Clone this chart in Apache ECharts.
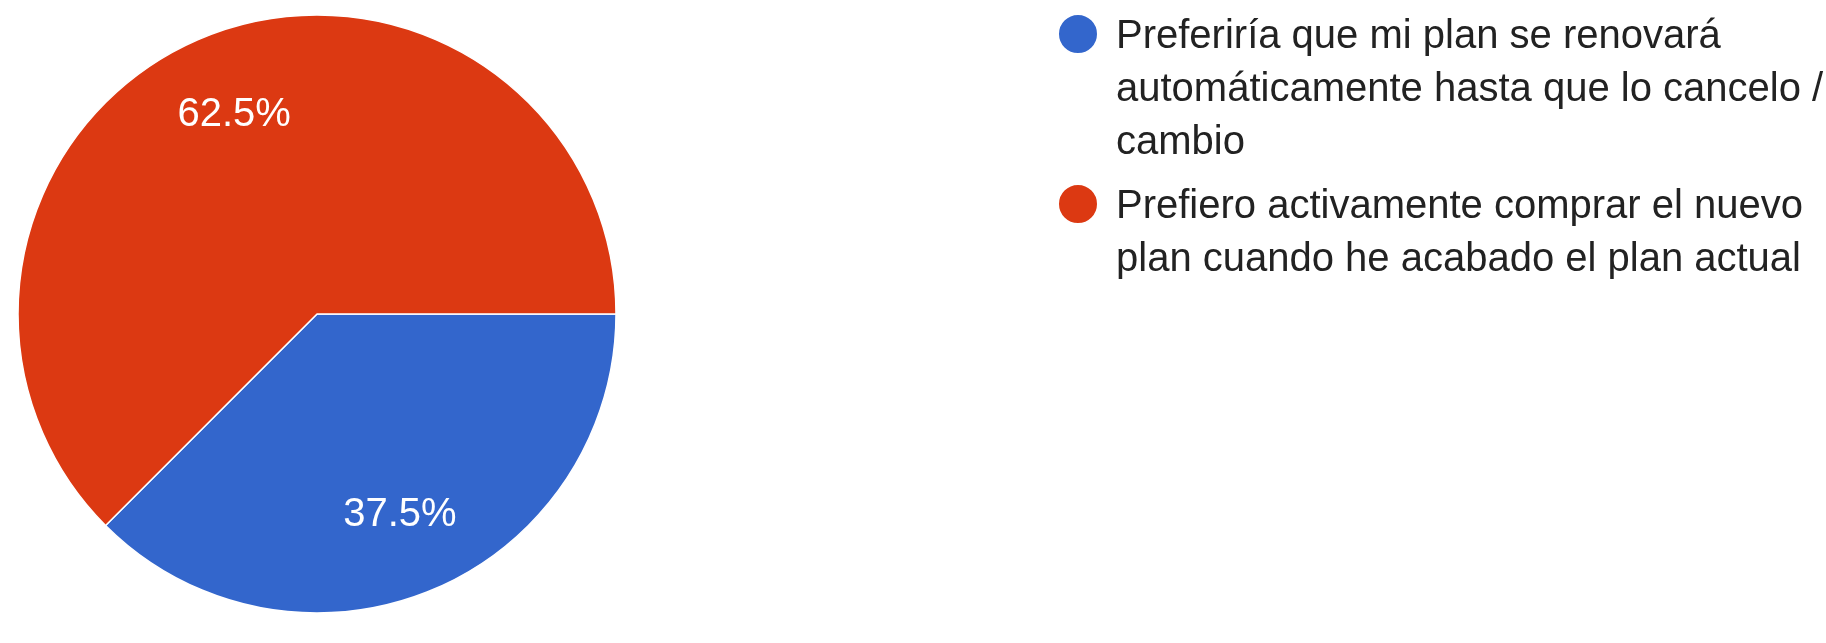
<!DOCTYPE html>
<html>
<head>
<meta charset="utf-8">
<title>Preferencia de renovación del plan</title>
<script src="https://cdn.jsdelivr.net/npm/echarts@6/dist/echarts.min.js"></script>
<style>
  html, body { margin: 0; padding: 0; background: #ffffff; }
  #chart { width: 1826px; height: 643px; }
</style>
</head>
<body>
<div id="chart"></div>
<script>
// Answer options (line breaks as they wrap in the legend)
const categories = [
  'Preferiría que mi plan se renovará\nautomáticamente hasta que lo cancelo /\ncambio',
  'Prefiero activamente comprar el nuevo\nplan cuando he acabado el plan actual'
];
// Share of responses, in percent
const shares = [37.5, 62.5];
const sliceColors = ['#3366cc', '#dc3912'];

const FONT = "'Liberation Sans', Arial, sans-serif";
const FONT_SIZE = 40;
const LINE_H = 53;
const TEXT_DROP = 3;          // first text line sits this much below the dot centre
const CENTER = [317, 314];
const RADIUS = 299;

const pieData = categories.map((name, i) => ({
  name: name,
  value: shares[i],
  itemStyle: { color: sliceColors[i] }
}));

// The legend centres a text block on its dot; leading spacer lines push the
// first real line down so it sits beside the dot.
const spacerHeight = (lines) => LINE_H + (lines > 1 ? 2 * TEXT_DROP / (lines - 1) : 0);
const legendFormatter = (name) => {
  const parts = name.split('\n');
  const n = parts.length;
  const spacer = n > 1 ? ('{s' + n + '| }\n').repeat(n - 1) : '';
  return spacer + parts.map((p) => '{t|' + p + '}').join('\n');
};

const chart = echarts.init(document.getElementById('chart'), null, { renderer: 'canvas' });

chart.setOption({
  backgroundColor: '#ffffff',
  animation: false,
  legend: {
    orient: 'vertical',
    left: 1057,
    top: 14 - (2 * spacerHeight(3) + 3 * LINE_H) / 2 + 20,
    padding: 0,
    itemWidth: 40,
    itemHeight: 40,
    itemGap: -48,
    icon: 'circle',
    selectedMode: false,
    data: categories,
    formatter: legendFormatter,
    textStyle: {
      color: '#222222',
      fontFamily: FONT,
      fontSize: FONT_SIZE,
      lineHeight: LINE_H,
      padding: [0, 0, 0, 13],
      backgroundColor: 'rgba(0,0,0,0)',
      rich: {
        t: { color: '#222222', fontFamily: FONT, fontSize: FONT_SIZE, lineHeight: LINE_H },
        s2: { fontSize: FONT_SIZE, lineHeight: spacerHeight(2) },
        s3: { fontSize: FONT_SIZE, lineHeight: spacerHeight(3) }
      }
    }
  },
  series: [
    {
      // filled slices
      type: 'pie',
      center: CENTER,
      radius: RADIUS,
      startAngle: 0,
      clockwise: true,
      silent: true,
      label: { show: false },
      labelLine: { show: false },
      itemStyle: { borderColor: '#ffffff', borderWidth: 1.5 },
      emphasis: { disabled: true },
      data: pieData
    },
    {
      // percentage labels, placed in the outer part of each slice
      type: 'pie',
      center: CENTER,
      radius: [128, RADIUS],
      startAngle: 0,
      clockwise: true,
      silent: true,
      itemStyle: { color: 'rgba(0,0,0,0)', borderWidth: 0 },
      emphasis: { disabled: true },
      labelLine: { show: false },
      label: {
        show: true,
        position: 'inside',
        offset: [0, 1],
        color: '#ffffff',
        fontFamily: FONT,
        fontSize: FONT_SIZE,
        textBorderWidth: 0,
        formatter: (p) => p.value.toFixed(1) + '%'
      },
      data: pieData.map((d) => ({ name: d.name, value: d.value }))
    }
  ]
});
</script>
</body>
</html>
